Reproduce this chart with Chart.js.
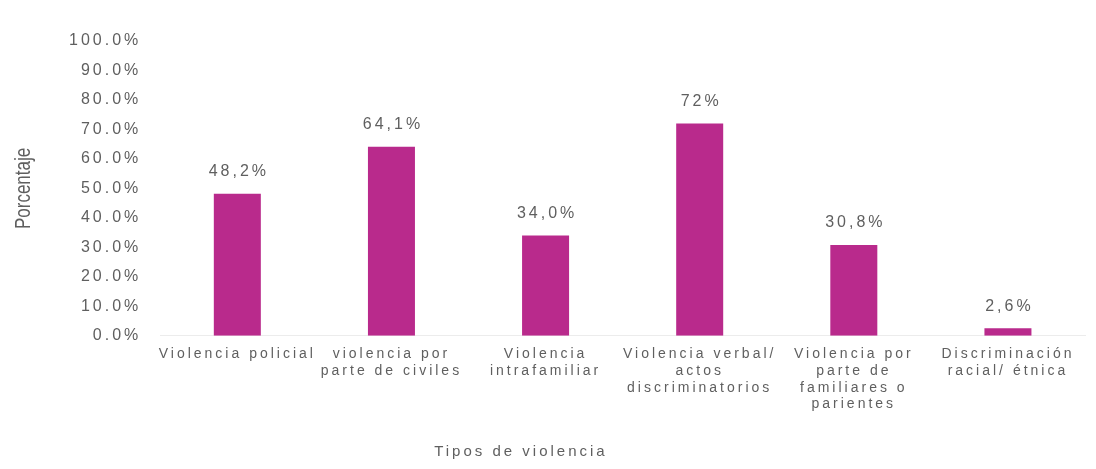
<!DOCTYPE html>
<html lang="es">
<head>
    <meta charset="UTF-8">
    <title>Tipos de violencia</title>
    <script src="https://cdn.jsdelivr.net/npm/chart.js"></script>
    <style>
        html, body { margin: 0; padding: 0; background: #fff; }
        #wrap { width: 1096px; height: 469px; }
    </style>
</head>
<body>
    <div id="wrap"><canvas id="chart"></canvas></div>
    <script>
        const categories = [
            ['Violencia policial'],
            ['violencia por', 'parte de civiles'],
            ['Violencia', 'intrafamiliar'],
            ['Violencia verbal/', 'actos', 'discriminatorios'],
            ['Violencia por', 'parte de', 'familiares o', 'parientes'],
            ['Discriminación', 'racial/ étnica']
        ];
        const values = [48.2, 64.1, 34.0, 72, 30.8, 2.6];
        const valueLabels = ['48,2%', '64,1%', '34,0%', '72%', '30,8%', '2,6%'];
        const yTitle = 'Porcentaje';
        const xTitle = 'Tipos de violencia';

        const textColor = '#5f5f5f';
        const fontFamily = '"Liberation Sans", Arial, sans-serif';

        // the reference text is set wide, so spread the letters a bit
        // (canvas resets its state on resize, so set it before layout and draw)
        const wideText = {
            id: 'wideText',
            beforeLayout(chart) { chart.ctx.letterSpacing = '3px'; },
            beforeDraw(chart) { chart.ctx.letterSpacing = '3px'; }
        };

        // value text above each bar and both axis titles
        const extraText = {
            id: 'extraText',
            afterDatasetsDraw(chart) {
                const ctx = chart.ctx;
                const meta = chart.getDatasetMeta(0);
                const area = chart.chartArea;
                ctx.save();
                ctx.font = '16px ' + fontFamily;
                ctx.fillStyle = textColor;
                ctx.textAlign = 'center';
                ctx.textBaseline = 'bottom';
                meta.data.forEach((bar, i) => {
                    ctx.fillText(valueLabels[i], bar.x + 1.5, bar.y - 14);
                });

                // x title sits a bit left of centre in the original
                ctx.font = '15px ' + fontFamily;
                ctx.textBaseline = 'middle';
                ctx.fillText(xTitle, area.left + (area.right - area.left) * 0.39, 452);

                // y title: wide glyphs, no extra spacing along the text
                ctx.letterSpacing = '0px';
                ctx.font = '17px ' + fontFamily;
                ctx.translate(24, (area.top + area.bottom) / 2);
                ctx.scale(1.3, 1);
                ctx.rotate(-Math.PI / 2);
                ctx.fillText(yTitle, 0, 0);
                ctx.restore();
            }
        };

        new Chart(document.getElementById('chart'), {
            type: 'bar',
            data: {
                labels: categories,
                datasets: [{
                    data: values,
                    backgroundColor: '#B92A8C',
                    barPercentage: 0.61,
                    categoryPercentage: 0.5
                }]
            },
            options: {
                responsive: true,
                maintainAspectRatio: false,
                animation: false,
                layout: { padding: { left: 50, right: 11, top: 41, bottom: 46 } },
                plugins: {
                    legend: { display: false },
                    tooltip: { enabled: false }
                },
                scales: {
                    x: {
                        grid: { display: false, drawTicks: false },
                        border: { display: true, color: '#ececec' },
                        ticks: {
                            color: textColor,
                            font: { family: fontFamily, size: 14, lineHeight: 1.2 },
                            maxRotation: 0,
                            autoSkip: false,
                            padding: 10
                        }
                    },
                    y: {
                        min: 0,
                        max: 100,
                        grid: { display: false, drawTicks: false },
                        border: { display: false },
                        ticks: {
                            stepSize: 10,
                            color: textColor,
                            font: { family: fontFamily, size: 16 },
                            padding: 19,
                            callback: v => v.toFixed(1) + '%'
                        }
                    }
                }
            },
            plugins: [wideText, extraText]
        });
    </script>
</body>
</html>
